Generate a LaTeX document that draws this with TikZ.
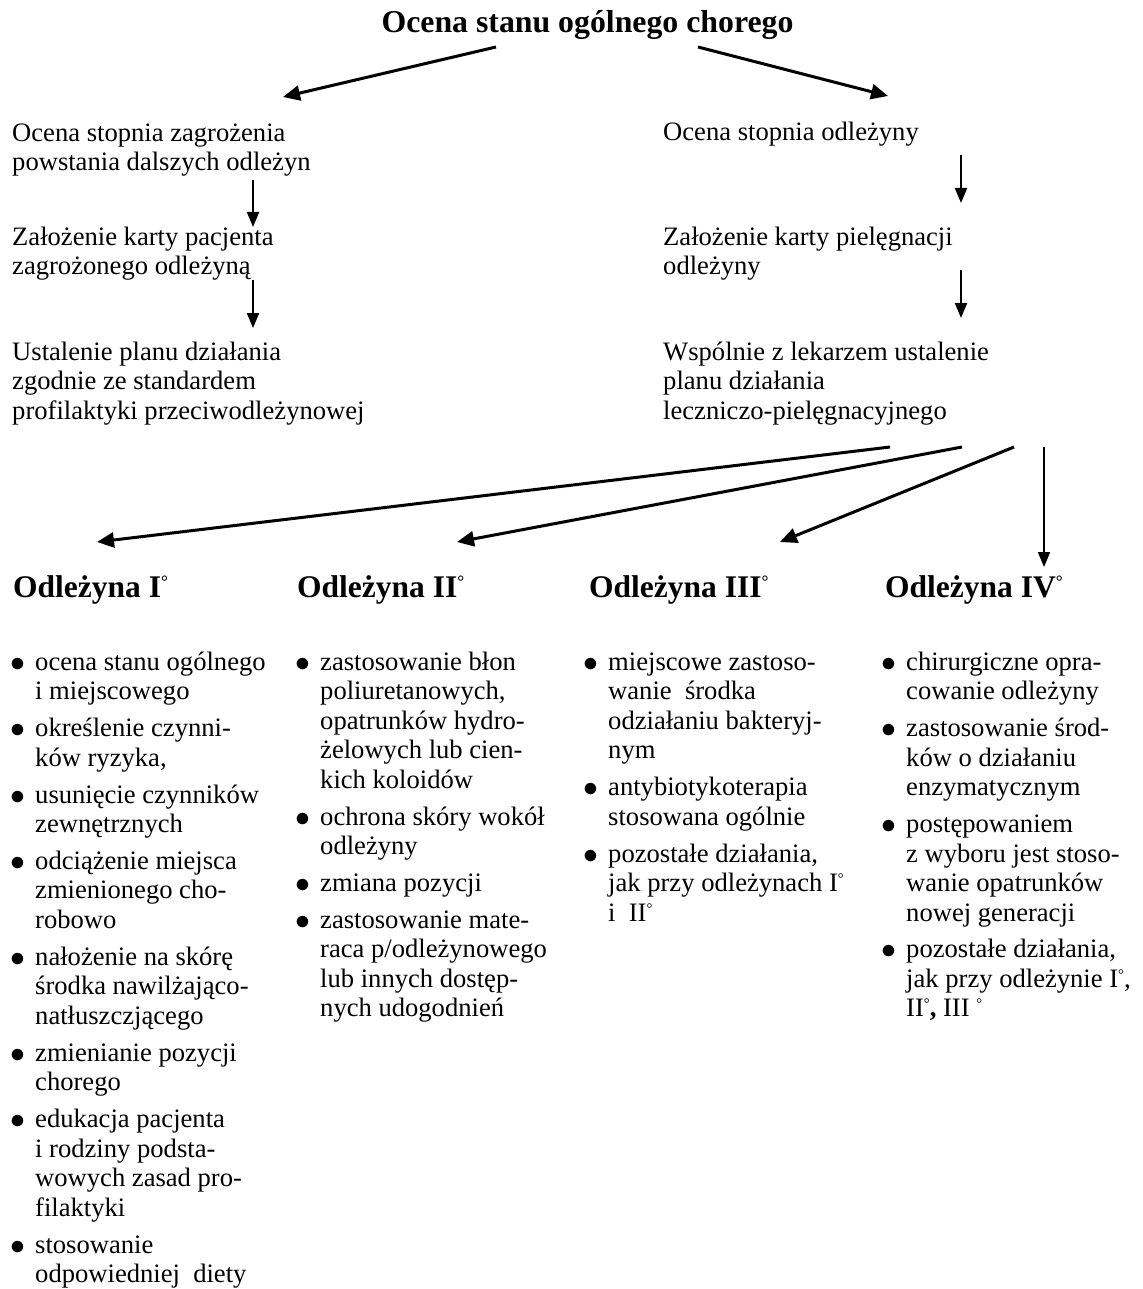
\documentclass[tikz,border=0pt]{standalone}
\usepackage{fontspec}
\setmainfont{Liberation Serif}
\usepackage{graphicx}
\usetikzlibrary{arrows.meta}
\newcommand\dg{\raisebox{0.3em}{\scalebox{0.55}{°}}}
\newcommand\st{\rule{0pt}{24pt}}
\newcommand\bul{\makebox[25pt][l]{\raisebox{-1pt}{\scalebox{1.2}{$\bullet$}}}}
\newcommand\ind{\hspace*{25pt}}
\newcommand\gap{\\[7.4pt]}
\begin{document}
\begin{tikzpicture}[x=1pt,y=-1pt,
  body/.style={anchor=north west, inner sep=0pt, align=left, font=\fontsize{26.6}{29.5}\selectfont},
  head/.style={anchor=base west, inner sep=0pt, font=\fontsize{31.5}{35}\selectfont\bfseries},
  thick/.style={line width=3pt, -{Triangle[length=17pt,width=15pt]}},
  thin/.style={line width=2pt, -{Triangle[length=15pt,width=12pt]}}]
\useasboundingbox (0,0) rectangle (1142,1289);

% title
\node[anchor=base, inner sep=0pt, font=\fontsize{31.8}{35}\selectfont\bfseries] (title) at (587.5,33) {Ocena stanu ogólnego chorego};

% left branch
\node[body] (l1) at (12,117) {\st Ocena stopnia zagrożenia\\powstania dalszych odleżyn};
\node[body] (l2) at (12,221) {\st Założenie karty pacjenta\\zagrożonego odleżyną};
\node[body] (l3) at (12,336) {\st Ustalenie planu działania\\zgodnie ze standardem\\profilaktyki przeciwodleżynowej};

% right branch
\node[body] (r1) at (663,116) {\st Ocena stopnia odleżyny};
\node[body] (r2) at (663,221) {\st Założenie karty pielęgnacji\\odleżyny};
\node[body] (r3) at (663,336) {\st Wspólnie z lekarzem ustalenie\\planu działania\\leczniczo-pielęgnacyjnego};

% headings
\node[head] (h1) at (13,597) {Odleżyna I\dg};
\node[head] (h2) at (297,597) {Odleżyna II\dg};
\node[head] (h3) at (589,597) {Odleżyna III\dg};
\node[head] (h4) at (885,597) {Odleżyna IV\dg};

% lists
\node[body] (c1) at (10,646) {\st\bul ocena stanu ogólnego\\\ind i miejscowego\gap
\bul określenie czynni-\\\ind ków ryzyka,\gap
\bul usunięcie czynników\\\ind zewnętrznych\gap
\bul odciążenie miejsca\\\ind zmienionego cho-\\\ind robowo\gap
\bul nałożenie na skórę\\\ind środka nawilżająco-\\\ind natłuszczjącego\gap
\bul zmienianie pozycji\\\ind chorego\gap
\bul edukacja pacjenta\\\ind i rodziny podsta-\\\ind wowych zasad pro-\\\ind filaktyki\gap
\bul stosowanie\\\ind odpowiedniej\ \ diety};

\node[body] (c2) at (295,646) {\st\bul zastosowanie błon\\\ind poliuretanowych,\\\ind opatrunków hydro-\\\ind żelowych lub cien-\\\ind kich koloidów\gap
\bul ochrona skóry wokół\\\ind odleżyny\gap
\bul zmiana pozycji\gap
\bul zastosowanie mate-\\\ind raca p/odleżynowego\\\ind lub innych dostęp-\\\ind nych udogodnień};

\node[body] (c3) at (583,646) {\st\bul miejscowe zastoso-\\\ind wanie\ \ środka\\\ind odziałaniu bakteryj-\\\ind nym\gap
\bul antybiotykoterapia\\\ind stosowana ogólnie\gap
\bul pozostałe działania,\\\ind jak przy odleżynach I\dg\\\ind i\ \ II\dg};

\node[body] (c4) at (881,646) {\st\bul chirurgiczne opra-\\\ind cowanie odleżyny\gap
\bul zastosowanie środ-\\\ind ków o działaniu\\\ind enzymatycznym\gap
\bul postępowaniem\\\ind z wyboru jest stoso-\\\ind wanie opatrunków\\\ind nowej generacji\gap
\bul pozostałe działania,\\\ind jak przy odleżynie I\dg,\\\ind II\dg\textbf{,} III \dg};

% connector end points
\coordinate (ta) at (496,47);
\coordinate (tb) at (698,47);
\coordinate (la) at (283,97);
\coordinate (ra) at (888,96);
\coordinate (l1e) at (253,180);
\coordinate (l2s) at (253,227);
\coordinate (l2e) at (253,280);
\coordinate (l3s) at (253,328);
\coordinate (r1e) at (961,155);
\coordinate (r2s) at (961,203);
\coordinate (r2e) at (961,270);
\coordinate (r3s) at (961,318);
\coordinate (s1) at (890,447);
\coordinate (s2) at (962,447);
\coordinate (s3) at (1014,447);
\coordinate (s4) at (1044,447);
\coordinate (e1) at (97,542);
\coordinate (e2) at (457,542);
\coordinate (e3) at (780,542);
\coordinate (e4) at (1044,567);

\draw[thick] (ta) -- (la);
\draw[thick] (tb) -- (ra);
\draw[thin] (l1e) -- (l2s);
\draw[thin] (l2e) -- (l3s);
\draw[thin] (r1e) -- (r2s);
\draw[thin] (r2e) -- (r3s);
\draw[thick] (s1) -- (e1);
\draw[thick] (s2) -- (e2);
\draw[thick] (s3) -- (e3);
\draw[thin] (s4) -- (e4);
\end{tikzpicture}
\end{document}
